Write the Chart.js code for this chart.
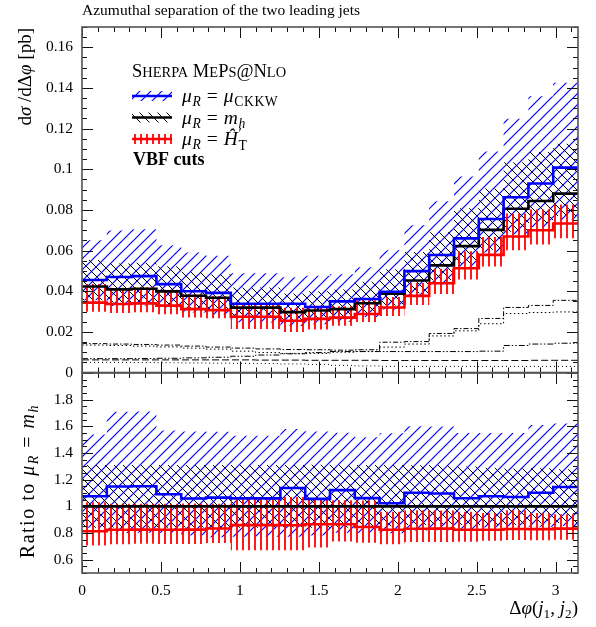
<!DOCTYPE html>
<html><head><meta charset="utf-8">
<script src="https://cdn.jsdelivr.net/npm/chart.js@4.4.1/dist/chart.umd.min.js"></script>
<style>
html,body{margin:0;padding:0;background:#fff;}
#wrap{position:relative;width:596px;height:627px;overflow:hidden;}
canvas{position:absolute;left:0;top:0;width:596px;height:627px;}
</style></head>
<body>
<div id="wrap"><canvas id="cMain" width="596" height="627"></canvas><canvas id="cRatio" width="596" height="627"></canvas></div>
<script>
// ---------- data ----------
const binEdges = [0, 0.1571, 0.3142, 0.4712, 0.6283, 0.7854, 0.9425, 1.0996, 1.2566, 1.4137, 1.5708, 1.7279, 1.8850, 2.0420, 2.1991, 2.3562, 2.5133, 2.6704, 2.8274, 2.9845, 3.1416];
const mh     = [0.0423, 0.0409, 0.0412, 0.0399, 0.0378, 0.0368, 0.0319, 0.0319, 0.0297, 0.0305, 0.0312, 0.0341, 0.0388, 0.0453, 0.0527, 0.0622, 0.0702, 0.0806, 0.0844, 0.0880];
const ckkw   = [0.0455, 0.0470, 0.0474, 0.0435, 0.0400, 0.0392, 0.0338, 0.0338, 0.0338, 0.0322, 0.0350, 0.0362, 0.0397, 0.0499, 0.0578, 0.0660, 0.0755, 0.0862, 0.0930, 0.1008];
const htp    = [0.0344, 0.0337, 0.0340, 0.0329, 0.0312, 0.0307, 0.0274, 0.0274, 0.0255, 0.0264, 0.0270, 0.0288, 0.0320, 0.0377, 0.0439, 0.0513, 0.0579, 0.0669, 0.0700, 0.0733];
const mhLo   = [0.0355, 0.0344, 0.0346, 0.0335, 0.0318, 0.0309, 0.0268, 0.0268, 0.0250, 0.0256, 0.0262, 0.0287, 0.0330, 0.0390, 0.0455, 0.0535, 0.0604, 0.0693, 0.0735, 0.0770];
const mhHi   = [0.0554, 0.0536, 0.0540, 0.0523, 0.0495, 0.0482, 0.0418, 0.0418, 0.0389, 0.0400, 0.0409, 0.0447, 0.0508, 0.0593, 0.0690, 0.0808, 0.0905, 0.1035, 0.1085, 0.1125];
const ckkwLo = [0.0355, 0.0327, 0.0330, 0.0319, 0.0295, 0.0283, 0.0246, 0.0246, 0.0229, 0.0238, 0.0250, 0.0273, 0.0310, 0.0371, 0.0432, 0.0516, 0.0590, 0.0680, 0.0715, 0.0750];
const ckkwHi = [0.0651, 0.0699, 0.0705, 0.0626, 0.0590, 0.0574, 0.0488, 0.0488, 0.0469, 0.0476, 0.0484, 0.0518, 0.0601, 0.0725, 0.0843, 0.0964, 0.1088, 0.1249, 0.1359, 0.1426];
const htpLo  = [0.0299, 0.0293, 0.0296, 0.0286, 0.0271, 0.0267, 0.0214, 0.0214, 0.0199, 0.0211, 0.0230, 0.0248, 0.0278, 0.0332, 0.0386, 0.0457, 0.0521, 0.0602, 0.0630, 0.0660];
const htpHi  = [0.0436, 0.0417, 0.0420, 0.0407, 0.0386, 0.0375, 0.0341, 0.0341, 0.0318, 0.0320, 0.0326, 0.0356, 0.0372, 0.0440, 0.0511, 0.0597, 0.0667, 0.0782, 0.0802, 0.0827];
// sub-contributions (thin black lines, no legend)
const subA = [0.0142, 0.0140, 0.0138, 0.0135, 0.0130, 0.0125, 0.0120, 0.0116, 0.0113, 0.0112, 0.0110, 0.0112, 0.0149, 0.0152, 0.0192, 0.0216, 0.0266, 0.0320, 0.0330, 0.0355];
const subB = [0.0135, 0.0133, 0.0130, 0.0126, 0.0120, 0.0115, 0.0105, 0.0098, 0.0094, 0.0094, 0.0100, 0.0104, 0.0125, 0.0140, 0.0180, 0.0205, 0.0240, 0.0290, 0.0295, 0.0298];
const subC = [0.0068, 0.0068, 0.0069, 0.0070, 0.0072, 0.0075, 0.0080, 0.0086, 0.0092, 0.0098, 0.0103, 0.0103, 0.0103, 0.0103, 0.0103, 0.0103, 0.0105, 0.0133, 0.0140, 0.0144];
const subD = [0.0062, 0.0062, 0.0062, 0.0062, 0.0062, 0.0062, 0.0062, 0.0061, 0.0061, 0.0060, 0.0060, 0.0060, 0.0059, 0.0059, 0.0059, 0.0059, 0.0059, 0.0059, 0.0060, 0.0060];
const subE = [0.0050, 0.0050, 0.0049, 0.0048, 0.0047, 0.0046, 0.0045, 0.0044, 0.0042, 0.0040, 0.0035, 0.0032, 0.0030, 0.0030, 0.0030, 0.0030, 0.0030, 0.0030, 0.0030, 0.0030];

const xTicks = [0, 0.5, 1, 1.5, 2, 2.5, 3];
const xTickLabels = ['0', '0.5', '1', '1.5', '2', '2.5', '3'];
const yMainTicks = [0, 0.02, 0.04, 0.06, 0.08, 0.1, 0.12, 0.14, 0.16];
const yMainTickLabels = ['0', '0.02', '0.04', '0.06', '0.08', '0.1', '0.12', '0.14', '0.16'];
const yRatioTicks = [0.6, 0.8, 1, 1.2, 1.4, 1.6, 1.8];
const yRatioTickLabels = ['0.6', '0.8', '1', '1.2', '1.4', '1.6', '1.8'];

const titleText = 'Azumuthal separation of the two leading jets';

// ---------- styles ----------
const SERIF = '"Liberation Serif", "DejaVu Serif", serif';
const BLUE = '#0000ff', RED = '#ff0000', BLACK = '#000000';

function makePattern(w, h, draw) {
  const c = document.createElement('canvas');
  c.width = w; c.height = h;
  const g = c.getContext('2d');
  draw(g, w, h);
  return g.createPattern(c, 'repeat');
}
const patBlue = makePattern(11, 11, (g, w, h) => {
  g.strokeStyle = BLUE; g.lineWidth = 1.2;
  [[0, h, w, 0], [-w/2, h/2, w/2, -h/2], [w/2, h*1.5, w*1.5, h/2]].forEach(l => { g.beginPath(); g.moveTo(l[0], l[1]); g.lineTo(l[2], l[3]); g.stroke(); });
});
const patBlack = makePattern(9, 9, (g, w, h) => {
  g.strokeStyle = BLACK; g.lineWidth = 1;
  [[0, 0, w, h], [-w/2, h/2, w/2, h*1.5], [w/2, -h/2, w*1.5, h/2]].forEach(l => { g.beginPath(); g.moveTo(l[0], l[1]); g.lineTo(l[2], l[3]); g.stroke(); });
});
const patRed = makePattern(6, 6, (g, w, h) => {
  g.strokeStyle = RED; g.lineWidth = 1.8;
  g.beginPath(); g.moveTo(3, 0); g.lineTo(3, h); g.stroke();
});

function stepPts(vals) {
  const p = vals.map((v, i) => ({ x: binEdges[i], y: v }));
  p.push({ x: binEdges[vals.length], y: vals[vals.length - 1] });
  return p;
}
function lineDS(vals, color, width, dash, order) {
  return { data: stepPts(vals), stepped: 'before', borderColor: color, borderWidth: width, borderDash: dash || [], pointRadius: 0, fill: false, order: order };
}
function bandDS(hi, lo, pat, order) {
  return [
    { data: stepPts(hi), stepped: 'before', borderWidth: 0, borderColor: 'rgba(0,0,0,0)', backgroundColor: pat, fill: '+1', pointRadius: 0, order: order },
    { data: stepPts(lo), stepped: 'before', borderWidth: 0, borderColor: 'rgba(0,0,0,0)', backgroundColor: 'rgba(0,0,0,0)', fill: false, pointRadius: 0, order: order }
  ];
}
const ratioOf = arr => arr.map((v, i) => v / mh[i]);

// ---------- rich text ----------
function fnt(size, it, b) { return (it ? 'italic ' : '') + (b ? 'bold ' : '') + size + 'px ' + SERIF; }
function rich(ctx, x, y, parts, size, doDraw) {
  let cx = x;
  for (const p of parts) {
    const s = size * (p.s || 1);
    ctx.font = fnt(s, p.i, p.b);
    if (doDraw) ctx.fillText(p.t, cx, y + (p.dy || 0) * size);
    if (!p.na) cx += ctx.measureText(p.t).width;
  }
  return cx - x;
}
const SUB = { s: 0.7, dy: 0.22 };
const muR = [{ t: 'μ', i: 1 }, Object.assign({ t: 'R', i: 1 }, SUB), { t: ' = ' }];

// ---------- frame + ticks ----------
function frameTicks(chart, yMinor, yMajor) {
  const { ctx, chartArea: a, scales: { x, y } } = chart;
  ctx.save();
  ctx.strokeStyle = '#111'; ctx.lineWidth = 1;
  const seg = (x1, y1, x2, y2) => { ctx.beginPath(); ctx.moveTo(x1, y1); ctx.lineTo(x2, y2); ctx.stroke(); };
  for (let k = 0; k * 0.1 <= x.max + 1e-9; k++) {
    const v = k * 0.1, major = (k % 5 === 0), len = major ? 11 : 5;
    const px = Math.round(x.getPixelForValue(v)) + 0.5;
    seg(px, a.bottom, px, a.bottom - len);
    seg(px, a.top, px, a.top + len);
  }
  const n = Math.round((y.max - y.min) / yMinor);
  for (let k = 0; k <= n; k++) {
    const v = y.min + k * yMinor;
    const major = Math.abs(v / yMajor - Math.round(v / yMajor)) < 1e-6;
    const len = major ? 11 : 5;
    const py = Math.round(y.getPixelForValue(v)) + 0.5;
    seg(a.left, py, a.left + len, py);
    seg(a.right, py, a.right - len, py);
  }
  ctx.strokeStyle = '#555'; ctx.lineWidth = 1.6;
  ctx.strokeRect(a.left, a.top, a.right - a.left, a.bottom - a.top);
  ctx.restore();
}

function axes(yMin, yMax, yTicks, yLabels, showX, xHeight) {
  return {
    x: {
      type: 'linear', min: 0, max: 3.1416, display: showX,
      grid: { display: false, drawTicks: false }, border: { display: false },
      afterBuildTicks: s => { s.ticks = xTicks.map(v => ({ value: v })); },
      afterFit: s => { s.height = xHeight; },
      ticks: { padding: 9, color: '#000', font: { family: SERIF, size: 15.5 }, maxRotation: 0, autoSkip: false,
               callback: (v, i) => xTickLabels[i] }
    },
    y: {
      type: 'linear', min: yMin, max: yMax,
      grid: { display: false, drawTicks: false }, border: { display: false },
      afterBuildTicks: s => { s.ticks = yTicks.map(v => ({ value: v })); },
      afterFit: s => { s.width = 82; },
      ticks: { padding: 9, color: '#000', font: { family: SERIF, size: 15.5 }, autoSkip: false,
               callback: (v, i) => yLabels[i] }
    }
  };
}

// ---------- main chart ----------
const mainDecor = {
  id: 'mainDecor',
  afterDraw(chart) {
    frameTicks(chart, 0.005, 0.02);
    const ctx = chart.ctx;
    ctx.save();
    ctx.fillStyle = '#000';
    ctx.textBaseline = 'alphabetic';
    ctx.font = fnt(15.5);
    ctx.fillText(titleText, 82, 15);
    const yl = [{ t: 'd' }, { t: 'σ', i: 1 }, { t: ' /d' }, { t: 'Δ' }, { t: 'φ', i: 1 }, { t: ' [pb]' }];
    const w = rich(ctx, 0, 0, yl, 19, false);
    ctx.save(); ctx.translate(31, 28); ctx.rotate(-Math.PI / 2);
    rich(ctx, -w, 0, yl, 19, true);
    ctx.restore();
    const LS = 18.5;
    rich(ctx, 132, 77, [{ t: 'S' }, { t: 'HERPA', s: 0.78 }, { t: ' M' }, { t: 'E', s: 0.78 }, { t: 'P' }, { t: 'S', s: 0.78 }, { t: '@N' }, { t: 'LO', s: 0.78 }], LS, true);
    const entries = [
      { pat: patBlue, col: BLUE, cy: 96, parts: muR.concat([{ t: 'μ', i: 1 }, Object.assign({ t: 'CKKW' }, SUB)]) },
      { pat: patBlack, col: BLACK, cy: 117.5, parts: muR.concat([{ t: 'm', i: 1 }, Object.assign({ t: 'h', i: 1 }, SUB)]) },
      { pat: patRed, col: RED, cy: 139, parts: muR.concat([{ t: 'Ĥ', i: 1 }, { t: '′', s: 0.8, dy: -0.38, na: 1 }, { t: 'T', s: 0.7, dy: 0.24 }]) }
    ];
    for (const e of entries) {
      ctx.fillStyle = e.pat;
      ctx.fillRect(132, e.cy - 5, 40, 10);
      ctx.strokeStyle = e.col; ctx.lineWidth = 2.5;
      ctx.beginPath(); ctx.moveTo(132, e.cy); ctx.lineTo(172, e.cy); ctx.stroke();
      ctx.fillStyle = '#000';
      ctx.letterSpacing = '0.6px';
      rich(ctx, 182, e.cy + 6, e.parts, 19.5, true);
      ctx.letterSpacing = '0px';
    }
    rich(ctx, 133, 165, [{ t: 'VBF cuts', b: 1 }], 18, true);
    ctx.restore();
  }
};

new Chart(document.getElementById('cMain'), {
  type: 'line',
  data: {
    datasets: [
      lineDS(ckkw, BLUE, 2.6, null, 0),
      lineDS(mh, BLACK, 2.6, null, 0),
      lineDS(htp, RED, 2.6, null, 0),
      lineDS(subA, BLACK, 1, [5, 2, 1.5, 2], 1),
      lineDS(subB, BLACK, 1, [1.5, 2.5], 1),
      lineDS(subC, BLACK, 1, [6, 2, 1.5, 2, 1.5, 2], 1),
      lineDS(subD, BLACK, 1, [7, 3], 1),
      lineDS(subE, BLACK, 1, [1, 3], 1),
      ...bandDS(htpHi, htpLo, patRed, 5),
      ...bandDS(mhHi, mhLo, patBlack, 6),
      ...bandDS(ckkwHi, ckkwLo, patBlue, 7)
    ]
  },
  options: {
    responsive: false, animation: false, events: [], devicePixelRatio: 1,
    layout: { padding: { left: 0, right: 18, top: 27, bottom: 254.5 }, autoPadding: false },
    plugins: { legend: { display: false }, tooltip: { enabled: false } },
    scales: axes(0, 0.17, yMainTicks, yMainTickLabels, false, 0)
  },
  plugins: [mainDecor]
});

// ---------- ratio chart ----------
const ratioDecor = {
  id: 'ratioDecor',
  afterDraw(chart) {
    frameTicks(chart, 0.05, 0.2);
    const ctx = chart.ctx;
    ctx.save();
    ctx.fillStyle = '#000';
    const rl = [{ t: 'Ratio to ' }].concat(muR, [{ t: 'm', i: 1 }, Object.assign({ t: 'h', i: 1 }, SUB)]);
    ctx.letterSpacing = '1.5px';
    const w = rich(ctx, 0, 0, rl, 20, false);
    ctx.save(); ctx.translate(34, 404); ctx.rotate(-Math.PI / 2);
    rich(ctx, -w, 0, rl, 20, true);
    ctx.restore();
    ctx.letterSpacing = '0px';
    const xl = [{ t: 'Δ' }, { t: 'φ', i: 1 }, { t: '(' }, { t: 'j', i: 1 }, Object.assign({ t: '1' }, SUB), { t: ', ' }, { t: 'j', i: 1 }, Object.assign({ t: '2' }, SUB), { t: ')' }];
    const wx = rich(ctx, 0, 0, xl, 19, false);
    rich(ctx, 578 - wx, 614, xl, 19, true);
    ctx.restore();
  }
};

new Chart(document.getElementById('cRatio'), {
  type: 'line',
  data: {
    datasets: [
      lineDS(ratioOf(ckkw), BLUE, 2.6, null, 0),
      lineDS(ratioOf(mh), BLACK, 2.6, null, 0),
      lineDS(ratioOf(htp), RED, 2.6, null, 0),
      ...bandDS(ratioOf(htpHi), ratioOf(htpLo), patRed, 5),
      ...bandDS(ratioOf(mhHi), ratioOf(mhLo), patBlack, 6),
      ...bandDS(ratioOf(ckkwHi), ratioOf(ckkwLo), patBlue, 7)
    ]
  },
  options: {
    responsive: false, animation: false, events: [], devicePixelRatio: 1,
    layout: { padding: { left: 0, right: 18, top: 373, bottom: 0 }, autoPadding: false },
    plugins: { legend: { display: false }, tooltip: { enabled: false } },
    scales: axes(0.5, 2.0, yRatioTicks, yRatioTickLabels, true, 54)
  },
  plugins: [ratioDecor]
});
</script>
</body></html>
